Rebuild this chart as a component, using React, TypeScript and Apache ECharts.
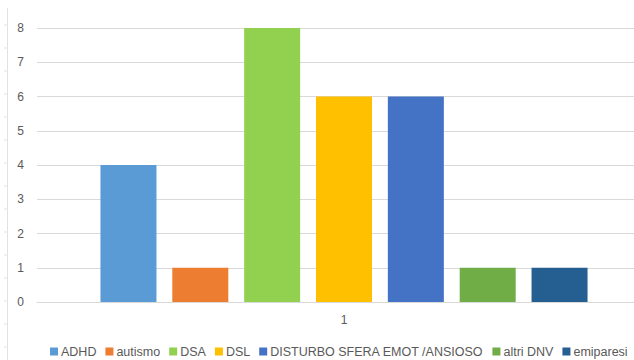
import React, { useEffect, useRef } from "react";
import * as echarts from "echarts";

const categories = ["1"];
const seriesNames = ["ADHD", "autismo", "DSA", "DSL", "DISTURBO SFERA EMOT /ANSIOSO", "altri DNV", "emiparesi"];
const seriesValues = [4, 1, 8, 6, 6, 1, 1];
const seriesColors = ["#5B9BD5", "#ED7D31", "#92D050", "#FFC000", "#4472C4", "#70AD47", "#255E91"];
const yTicks = [0, 1, 2, 3, 4, 5, 6, 7, 8];

const FONT = "'Liberation Sans', sans-serif";

export default function App() {
  const ref = useRef<HTMLDivElement>(null);
  useEffect(() => {
    if (!ref.current) return;
    const chart = echarts.init(ref.current, null, { renderer: "svg" });
    const rulerTicks: any[] = [];
    for (let i = 0; i < 15; i++) {
      const y = 25 + i * 23;
      rulerTicks.push({
        type: "line",
        shape: { x1: 4, y1: y, x2: 7, y2: y },
        style: { stroke: "#e3e3e3", lineWidth: 1 },
        silent: true,
      });
    }
    chart.setOption({
      animation: false,
      backgroundColor: "#ffffff",
      textStyle: { fontFamily: FONT },
      grid: { left: 37, top: 28, right: -17, bottom: 58, outerBoundsMode: "none" },
      xAxis: {
        type: "category",
        data: categories,
        axisLine: { show: true, lineStyle: { color: "#d9d9d9", width: 1 } },
        axisTick: { show: false },
        axisLabel: { color: "#595959", fontSize: 12, margin: 12, fontFamily: FONT },
        splitLine: { show: false },
      },
      yAxis: {
        type: "value",
        min: yTicks[0],
        max: yTicks[yTicks.length - 1],
        interval: 1,
        axisLine: { show: false },
        axisTick: { show: false },
        axisLabel: { color: "#595959", fontSize: 12, margin: 13, fontFamily: FONT },
        splitLine: { lineStyle: { color: "#d9d9d9", width: 1 } },
      },
      legend: {
        bottom: 0,
        left: 48,
        width: 600,
        padding: 2,
        itemWidth: 8,
        itemHeight: 8,
        itemGap: 9,
        icon: "rect",
        textStyle: { color: "#595959", fontSize: 12.5, fontFamily: FONT, padding: [0, 0, 0, -2] },
        data: seriesNames,
      },
      graphic: [
        {
          type: "line",
          shape: { x1: 7.5, y1: 8, x2: 7.5, y2: 360 },
          style: { stroke: "#e3e3e3", lineWidth: 1 },
          silent: true,
        },
        ...rulerTicks,
      ],
      series: seriesNames.map((name, i) => ({
        name,
        type: "bar",
        data: [seriesValues[i]],
        barWidth: 56,
        barGap: "28.3%",
        itemStyle: { color: seriesColors[i] },
      })),
    });
    return () => chart.dispose();
  }, []);
  return <div ref={ref} style={{ width: 634, height: 360, position: "absolute", left: 0, top: 0 }} />;
}
